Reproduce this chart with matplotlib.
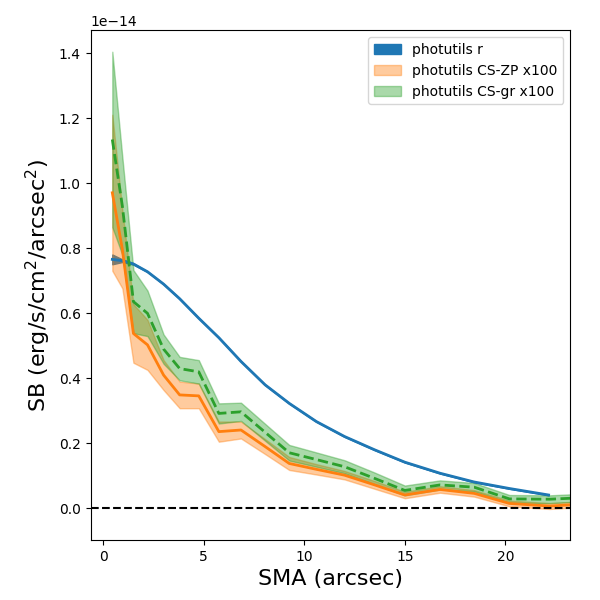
import numpy as np
import matplotlib
matplotlib.use("Agg")
import matplotlib.pyplot as plt

# SMA grid (arcsec)
sma = [0.45, 0.95, 1.5, 2.2, 3.0, 3.8, 4.75, 5.75, 6.85, 8.05,
       9.25, 10.6, 12.0, 13.5, 15.0, 16.75, 18.45, 20.2, 22.2, 23.6]
sma_r = [0.45, 0.95, 1.5, 2.2, 3.0, 3.8, 4.75, 5.75, 6.85, 8.05,
         9.25, 10.6, 12.0, 13.5, 15.0, 16.75, 18.45, 20.2, 22.15]

# surface brightness in units of 1e-14 erg/s/cm2/arcsec2
sb_r = [0.766, 0.762, 0.752, 0.728, 0.690, 0.645, 0.585, 0.525, 0.452, 0.380,
        0.323, 0.267, 0.221, 0.180, 0.142, 0.108, 0.081, 0.061, 0.041]
err_r = [0.015, 0.004, 0.002, 0.001, 0.001, 0.001, 0.001, 0.001, 0.001, 0.001,
         0.001, 0.001, 0.001, 0.001, 0.001, 0.001, 0.001, 0.001, 0.001]

sb_zp = [0.971, 0.797, 0.538, 0.503, 0.410, 0.349, 0.346, 0.236, 0.241, 0.190,
         0.138, 0.120, 0.102, 0.072, 0.041, 0.058, 0.046, 0.015, 0.007, 0.012]
err_zp = [0.24, 0.12, 0.09, 0.077, 0.046, 0.041, 0.038, 0.031, 0.026, 0.023,
          0.02, 0.016, 0.013, 0.012, 0.01, 0.01, 0.01, 0.009, 0.009, 0.009]

sb_gr = [1.135, 0.93, 0.636, 0.600, 0.490, 0.430, 0.420, 0.292, 0.297, 0.234,
         0.171, 0.150, 0.128, 0.092, 0.055, 0.072, 0.065, 0.029, 0.028, 0.032]
err_gr = [0.27, 0.15, 0.097, 0.07, 0.045, 0.036, 0.036, 0.031, 0.028, 0.026,
          0.024, 0.022, 0.02, 0.018, 0.015, 0.014, 0.013, 0.012, 0.012, 0.012]

scale = 1e-14
sma = np.array(sma)
sma_r = np.array(sma_r)
sb_r, err_r = np.array(sb_r) * scale, np.array(err_r) * scale
sb_zp, err_zp = np.array(sb_zp) * scale, np.array(err_zp) * scale
sb_gr, err_gr = np.array(sb_gr) * scale, np.array(err_gr) * scale

fig = plt.figure(figsize=(6, 6), dpi=100)
ax = fig.add_axes([0.151, 0.1, 0.7995, 0.8495])

ax.fill_between(sma_r, sb_r - err_r, sb_r + err_r, color="C0", label="photutils r")
ax.fill_between(sma, sb_zp - err_zp, sb_zp + err_zp, color="C1", alpha=0.4,
                label="photutils CS-ZP x100")
ax.fill_between(sma, sb_gr - err_gr, sb_gr + err_gr, color="C2", alpha=0.4,
                label="photutils CS-gr x100")

ax.plot(sma_r, sb_r, color="C0", lw=2)
ax.plot(sma, sb_zp, color="C1", lw=2)
ax.plot(sma, sb_gr, color="C2", lw=2, ls="--")
ax.axhline(0, color="k", ls="--", lw=1.5)

ax.set_xlim(-0.63, 23.23)
ax.set_ylim(-0.0975e-14, 1.471e-14)
ax.set_xlabel("SMA (arcsec)", fontsize=16)
ax.set_ylabel("SB (erg/s/cm$^2$/arcsec$^2$)", fontsize=16)
ax.legend(loc="upper right")

fig.savefig("out.png", dpi=100)
